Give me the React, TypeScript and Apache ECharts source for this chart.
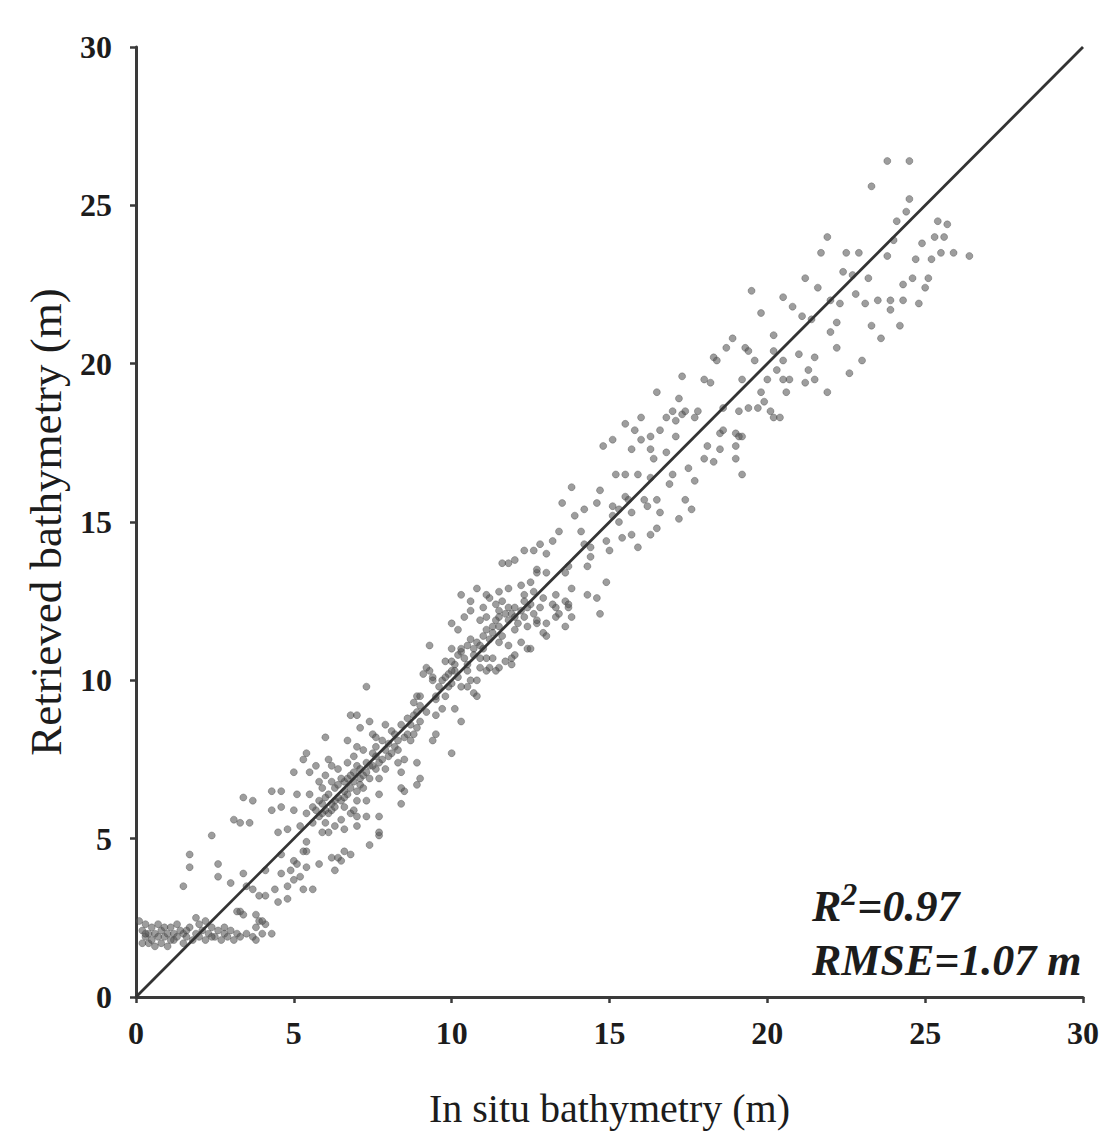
import React, { useEffect, useRef } from "react";
import * as echarts from "echarts";

const xTicks = [0, 5, 10, 15, 20, 25, 30];
const yTicks = [0, 5, 10, 15, 20, 25, 30];
const xTitle = "In situ bathymetry (m)";
const yTitle = "Retrieved bathymetry (m)";
const oneToOne = [[0, 0], [30, 30]];

const lowCluster = [
  [0.2, 2.1], [0.3, 1.9], [0.3, 2.3], [0.4, 1.7], [0.4, 2.0], [0.5, 2.2], [0.5, 1.8], [0.6, 2.0],
  [0.7, 1.9], [0.7, 2.3], [0.8, 1.7], [0.8, 2.1], [0.9, 1.9], [1.0, 2.0], [1.0, 1.6], [1.1, 2.2],
  [1.2, 1.8], [1.2, 2.0], [1.3, 1.9], [1.4, 2.1], [1.5, 1.7], [1.5, 2.0], [1.6, 1.9], [1.7, 2.2],
  [1.8, 1.8], [1.9, 2.0], [2.0, 2.3], [2.0, 1.9], [2.1, 2.1], [2.2, 1.8], [2.3, 2.0], [2.4, 2.2],
  [2.5, 1.9], [2.6, 2.1], [2.7, 1.8], [2.8, 2.0], [2.9, 1.9], [3.0, 2.1], [3.1, 1.8], [3.2, 2.0],
  [3.3, 1.9], [3.5, 2.0], [3.7, 1.9], [3.8, 1.8], [4.0, 2.0], [4.3, 2.0], [3.8, 2.2], [3.9, 2.4],
  [4.1, 2.3], [3.3, 2.7], [3.4, 2.6], [3.2, 2.7], [0.1, 2.4], [0.6, 1.6], [1.9, 2.5], [2.2, 2.4],
  [0.3, 2.0], [0.9, 2.2], [1.1, 1.8], [1.6, 2.1], [2.4, 1.9], [2.8, 2.2], [0.2, 1.7], [1.3, 2.3],
];

const shallowPoints = [
  [1.5, 3.5], [1.7, 4.1], [1.7, 4.5], [2.4, 5.1], [2.6, 4.2], [2.6, 3.8], [3.0, 3.6], [3.4, 3.9],
  [3.5, 3.5], [3.7, 3.4], [3.9, 3.2], [4.1, 3.2], [3.1, 5.6], [3.3, 5.5], [3.6, 5.5], [3.4, 6.3],
  [3.7, 6.2], [4.3, 6.5], [4.6, 6.5], [4.3, 5.9], [4.6, 6.0], [5.0, 5.9], [4.5, 5.2], [4.8, 5.3],
  [5.2, 5.4], [4.4, 3.4], [4.8, 3.5], [5.0, 3.7], [5.2, 3.8], [4.5, 3.0], [4.8, 3.1], [5.3, 3.4],
  [5.6, 3.4], [3.8, 2.6], [4.0, 2.4], [4.1, 4.0], [4.6, 3.9], [4.6, 4.5], [5.0, 4.3], [5.4, 4.6],
  [4.9, 4.0], [5.1, 4.2], [5.3, 4.6], [5.4, 4.9], [5.4, 4.1], [5.8, 4.2],
];

const midPoints = [
  [6.2, 4.4], [6.5, 4.3], [6.8, 4.5], [7.4, 4.8], [7.7, 5.1], [6.6, 4.6], [6.4, 4.4], [6.3, 4.0],
  [6.0, 5.5], [6.1, 5.2], [6.5, 5.6], [6.6, 6.0], [6.8, 5.8], [7.0, 6.2], [7.0, 5.7], [7.0, 5.4],
  [7.7, 5.7], [7.7, 5.2], [7.3, 5.7], [8.4, 6.1], [8.5, 6.5], [8.4, 6.6], [8.9, 6.7], [7.7, 6.9],
  [7.7, 6.4], [6.3, 6.2], [6.7, 6.4], [7.0, 6.5], [7.1, 6.9], [7.4, 7.3], [7.6, 7.6], [7.9, 7.8],
  [8.2, 7.9], [8.5, 8.2], [8.1, 8.4], [8.7, 8.6], [8.9, 9.0], [8.5, 7.5], [8.4, 7.1], [8.3, 7.4],
  [8.9, 7.4], [9.0, 6.9], [8.8, 8.3], [8.7, 8.1], [9.5, 8.3], [9.4, 8.1], [10.0, 7.7], [6.8, 8.9],
  [7.0, 8.9], [7.1, 8.5], [7.4, 8.7], [7.5, 8.3], [7.9, 8.6], [7.8, 8.1], [6.0, 8.2], [6.7, 8.1],
  [6.1, 7.5], [6.2, 7.3], [5.7, 7.3], [5.5, 7.1], [5.3, 7.5], [5.0, 7.1], [5.4, 7.7], [5.1, 6.4],
  [5.5, 6.4], [5.9, 6.6], [6.3, 6.6], [6.6, 6.5], [5.4, 5.8], [5.8, 5.7], [6.2, 5.9], [7.3, 9.8],
  [5.7, 5.9], [5.9, 6.1], [6.0, 6.3], [6.1, 5.8], [6.2, 6.1], [6.4, 6.7], [6.5, 6.2], [6.6, 6.8],
  [6.7, 6.9], [6.8, 6.6], [6.9, 7.1], [7.0, 7.3], [7.1, 6.7], [7.2, 7.0], [7.3, 7.4], [7.4, 6.9],
  [7.5, 7.7], [7.6, 7.2], [7.8, 7.5], [8.0, 8.0], [8.1, 7.7], [8.3, 8.1], [8.4, 8.6], [8.6, 8.3],
  [8.8, 8.9], [9.0, 8.7], [5.8, 6.8], [6.0, 7.0], [6.4, 7.2], [6.9, 7.6], [7.2, 7.8], [7.6, 8.2],
  [6.3, 5.4], [6.6, 5.3], [6.9, 5.9], [7.3, 6.2], [5.6, 5.5], [5.9, 5.2], [6.7, 7.4], [7.0, 7.9],
  [5.6, 6.0], [5.8, 6.2], [6.0, 5.9], [6.1, 6.4], [6.3, 6.0], [6.4, 6.3], [6.5, 6.9], [6.6, 6.3],
  [6.8, 7.0], [6.9, 6.8], [7.1, 7.2], [7.2, 6.6], [7.3, 7.1], [7.5, 7.3], [7.6, 7.9], [7.7, 7.4],
  [7.9, 7.2], [8.0, 7.6], [8.2, 8.3], [8.3, 7.8], [8.6, 8.8], [8.9, 8.5], [6.2, 6.8], [5.9, 5.8],
];

const denseCore = [
  [9.1, 10.2], [9.3, 10.3], [9.4, 10.1], [8.9, 9.5], [9.0, 9.2], [9.8, 10.6], [10.3, 10.9], [10.1, 10.3],
  [10.5, 10.3], [10.0, 9.9], [10.3, 9.8], [10.7, 9.6], [10.8, 10.0], [9.5, 9.4], [9.7, 9.1], [9.5, 8.9],
  [10.1, 9.1], [10.3, 8.7], [9.3, 11.1], [9.2, 10.4], [10.0, 11.0], [10.5, 11.1], [10.8, 11.2], [11.0, 11.4],
  [11.3, 11.5], [11.5, 11.7], [11.1, 10.7], [11.2, 10.4], [11.5, 10.4], [10.9, 10.4], [10.0, 11.8], [10.2, 11.6],
  [10.4, 12.0], [10.6, 12.2], [11.0, 12.3], [10.3, 12.7], [10.8, 12.9], [10.6, 12.5], [11.2, 12.6], [11.4, 12.4],
  [11.6, 12.5], [11.5, 12.2], [11.8, 12.3], [12.0, 12.3], [12.3, 12.5], [13.3, 12.7], [13.6, 12.5], [13.8, 12.9],
  [14.3, 12.7], [14.6, 12.6], [14.7, 12.1], [13.3, 12.3], [13.7, 12.3], [12.7, 11.8], [13.0, 11.8], [13.6, 11.7],
  [13.3, 12.0], [12.4, 12.3], [12.3, 12.0], [12.9, 11.5], [12.4, 11.0], [12.0, 10.8], [11.7, 10.6], [11.1, 12.7],
  [11.5, 12.8], [11.8, 12.9], [12.2, 13.0], [12.5, 13.1], [12.7, 13.4], [13.0, 13.4], [12.2, 12.2], [11.1, 12.0],
  [10.9, 11.9], [11.5, 12.0], [13.7, 12.4], [13.4, 12.1], [13.8, 12.0], [13.0, 11.4], [12.7, 11.9], [12.4, 11.7],
  [12.5, 11.0], [12.0, 11.6], [12.2, 11.2], [11.8, 11.1], [11.5, 11.2], [11.9, 10.7], [11.3, 10.7], [11.4, 10.3],
  [11.1, 10.3], [10.9, 10.7], [10.7, 11.0], [10.3, 11.0], [10.1, 10.5], [10.0, 10.3], [10.6, 10.0], [10.8, 9.5],
  [10.5, 9.8], [9.9, 9.8], [9.8, 9.5], [9.5, 9.5], [9.4, 10.0], [9.0, 9.5], [8.8, 9.3], [9.2, 9.0],
  [12.9, 12.6], [13.2, 12.4], [11.9, 10.5], [11.3, 11.7], [11.8, 11.9], [12.6, 12.1],
  [9.6, 9.8], [9.7, 10.0], [9.9, 10.2], [10.0, 10.6], [10.2, 10.1], [10.4, 10.7], [10.5, 10.5], [10.6, 11.3],
  [10.7, 10.8], [10.9, 11.1], [11.0, 11.0], [11.1, 11.6], [11.2, 11.3], [11.4, 11.9], [11.6, 11.4], [11.7, 12.1],
  [11.9, 12.1], [12.0, 12.0], [12.1, 11.8], [12.3, 12.7], [12.5, 12.4], [12.6, 12.8], [12.8, 12.3], [10.2, 10.8],
  [9.8, 10.1],
];

const upperPoints = [
  [13.8, 16.1], [13.5, 15.6], [13.9, 15.2], [13.4, 14.7], [13.2, 14.4], [12.8, 14.3], [13.0, 14.0], [12.3, 14.1],
  [12.6, 14.1], [11.6, 13.7], [11.8, 13.7], [12.0, 13.8], [12.7, 13.5], [13.6, 13.4], [13.7, 13.6], [14.4, 13.9],
  [14.3, 13.6], [14.9, 13.1], [18.9, 20.8], [18.7, 20.5], [19.3, 20.5], [19.4, 20.4], [18.3, 20.2], [18.4, 20.1],
  [19.6, 20.1], [20.3, 19.8], [20.7, 19.5], [21.9, 19.1], [20.6, 19.1], [19.8, 19.1], [17.3, 19.6], [18.0, 19.5],
  [18.2, 19.4], [19.2, 19.5], [16.5, 19.1], [17.2, 18.9], [17.0, 18.5], [17.3, 18.4], [17.4, 18.5], [17.8, 18.5],
  [17.7, 18.3], [18.6, 18.6], [19.1, 18.5], [19.4, 18.6], [19.7, 18.6], [19.9, 18.8], [20.1, 18.5], [20.2, 18.3],
  [20.4, 18.3], [16.0, 18.3], [16.8, 18.3], [17.1, 18.2], [15.5, 18.1], [15.8, 17.9], [16.0, 17.6], [16.3, 17.7],
  [16.6, 17.9], [17.1, 17.7], [15.1, 17.6], [14.8, 17.4], [15.7, 17.3], [16.3, 17.3], [16.4, 17.0], [16.8, 17.2],
  [18.1, 17.4], [18.0, 17.0], [18.3, 16.9], [18.5, 17.8], [18.6, 17.9], [18.5, 17.3], [19.0, 17.8], [19.1, 17.7],
  [19.0, 17.4], [19.0, 17.0], [19.2, 16.5], [17.5, 16.7], [17.0, 16.5], [16.9, 16.2], [15.2, 16.5], [15.5, 16.5],
  [15.9, 16.5], [16.3, 16.4], [17.7, 16.3], [14.7, 16.0], [14.6, 15.6], [14.2, 15.4], [14.1, 14.7], [15.1, 15.5],
  [15.3, 15.4], [15.5, 15.8], [15.6, 15.7], [16.1, 15.7], [16.2, 15.5], [16.5, 15.7], [16.6, 15.3], [15.7, 15.3],
  [17.4, 15.7], [17.6, 15.4], [17.2, 15.1], [15.1, 15.2], [15.3, 15.0], [15.4, 14.5], [14.9, 14.4], [15.7, 14.6],
  [16.3, 14.6], [16.5, 14.8], [15.0, 14.1], [15.9, 14.2], [14.4, 14.2], [14.2, 14.3], [19.2, 17.7],
];

const deepPoints = [
  [23.8, 26.4], [24.5, 26.4], [23.3, 25.6], [24.5, 25.2], [24.4, 24.8], [24.1, 24.5], [25.4, 24.5], [25.7, 24.4],
  [25.3, 24.0], [25.6, 24.0], [24.0, 23.9], [24.9, 23.8], [21.9, 24.0], [21.7, 23.5], [22.5, 23.5], [22.9, 23.5],
  [23.8, 23.4], [25.5, 23.5], [25.9, 23.5], [26.4, 23.4], [24.7, 23.3], [25.2, 23.3], [22.4, 22.9], [22.7, 22.8],
  [23.2, 22.7], [21.2, 22.7], [21.6, 22.4], [24.3, 22.5], [24.6, 22.7], [25.1, 22.7], [25.0, 22.4], [20.5, 22.1],
  [20.8, 21.8], [21.1, 21.5], [21.4, 21.4], [22.0, 22.0], [22.3, 21.9], [22.8, 22.2], [23.1, 21.9], [23.5, 22.0],
  [23.9, 22.0], [24.3, 22.0], [24.8, 21.9], [23.9, 21.7], [22.2, 21.3], [19.8, 21.6], [20.2, 20.9], [22.0, 21.0],
  [23.3, 21.2], [23.6, 20.8], [24.2, 21.2], [22.2, 20.5], [21.0, 20.3], [21.5, 20.2], [20.2, 20.4], [20.5, 20.1],
  [21.3, 19.8], [23.0, 20.1], [22.6, 19.7], [20.5, 19.5], [21.2, 19.4], [21.5, 19.5], [20.0, 19.5], [19.5, 22.3],
];

const statR2 = "0.97";
const statRmse = "1.07 m";

const SERIF = "'Liberation Serif', 'Times New Roman', serif";

export default function App() {
  const ref = useRef<HTMLDivElement>(null);
  useEffect(() => {
    if (!ref.current) return;
    const chart = echarts.init(ref.current, undefined, { renderer: "svg" });
    const allPoints = [...lowCluster, ...shallowPoints, ...midPoints, ...denseCore, ...upperPoints, ...deepPoints];
    const axisCommon = {
      type: "value" as const,
      min: 0,
      max: 30,
      interval: 5,
      nameLocation: "middle" as const,
      splitLine: { show: false },
      axisLine: { show: true, lineStyle: { color: "#3a3a3a", width: 3 } },
      axisTick: { show: true, inside: false, length: 6, lineStyle: { color: "#3a3a3a", width: 2.5 } },
      axisLabel: {
        color: "#1c1c1c",
        fontFamily: SERIF,
        fontWeight: "bold" as const,
        fontSize: 32,
        margin: 22,
      },
    };
    chart.setOption({
      animation: false,
      backgroundColor: "#ffffff",
      grid: { left: 136, right: 36, top: 47, bottom: 149, containLabel: false },
      xAxis: {
        ...axisCommon,
        name: xTitle,
        nameGap: 91,
        nameTextStyle: { fontFamily: SERIF, fontSize: 40, color: "#1c1c1c" },
        axisLabel: { ...axisCommon.axisLabel, margin: 20, customValues: xTicks },
      },
      yAxis: {
        ...axisCommon,
        name: yTitle,
        nameGap: 68,
        nameTextStyle: { fontFamily: SERIF, fontSize: 45, color: "#1c1c1c" },
        axisLabel: { ...axisCommon.axisLabel, margin: 24, customValues: yTicks },
      },
      series: [
        {
          type: "scatter",
          data: allPoints,
          symbol: "circle",
          symbolSize: 7,
          itemStyle: { color: "rgba(85,85,85,0.72)", borderColor: "rgba(50,50,50,0.5)", borderWidth: 0.8 },
          z: 2,
        },
        {
          type: "line",
          data: oneToOne,
          symbol: "none",
          lineStyle: { color: "#333333", width: 2.8 },
          z: 3,
        },
      ],
      graphic: [
        {
          type: "text",
          left: 812,
          top: 878,
          style: {
            text: "{a|R}{b|2}{a|=" + statR2 + "}",
            rich: {
              a: { fontFamily: SERIF, fontWeight: "bold", fontStyle: "italic", fontSize: 44, lineHeight: 50, verticalAlign: "bottom", fill: "#1c1c1c" },
              b: { fontFamily: SERIF, fontWeight: "bold", fontStyle: "italic", fontSize: 32, lineHeight: 32, verticalAlign: "top", fill: "#1c1c1c" },
            },
          },
        },
        {
          type: "text",
          left: 812,
          top: 938,
          style: {
            text: "RMSE=" + statRmse,
            fontFamily: SERIF,
            fontWeight: "bold",
            fontStyle: "italic",
            fontSize: 44,
            fill: "#1c1c1c",
          },
        },
      ],
    });
    return () => chart.dispose();
  }, []);
  return <div ref={ref} style={{ position: "absolute", left: 0, top: 0, width: 1119, height: 1146 }} />;
}
